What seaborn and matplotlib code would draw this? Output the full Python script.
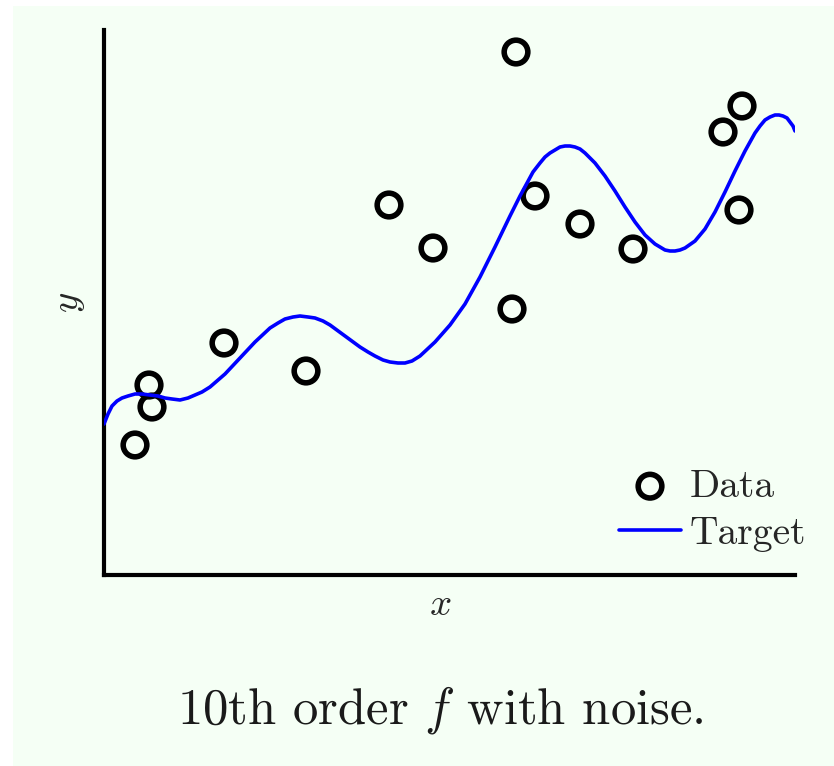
import matplotlib
matplotlib.use("Agg")
import matplotlib.pyplot as plt
import seaborn as sns
import pandas as pd
from matplotlib.patches import Rectangle

# Noisy samples of the target function
data_x = [31, 45, 48, 120, 202, 285, 329, 408, 412, 431, 476, 529, 619, 638, 635]
data_y = [130, 190, 168, 232, 204, 370, 327, 266, 523, 379, 351, 326, 443, 469, 365]

# Target function (10th order polynomial), sampled along x
target_x = [0, 4, 8, 13, 18, 24, 31, 38, 46, 54, 61, 68, 76, 84, 91, 98, 106, 121,
            136, 151, 166, 174, 181, 189, 196, 204, 211, 219, 226, 241, 256, 264,
            271, 279, 286, 294, 301, 308, 316, 331, 346, 361, 376, 391, 406, 416,
            429, 436, 441, 446, 451, 456, 461, 466, 471, 476, 481, 491, 501, 511,
            521, 531, 541, 551, 556, 561, 566, 571, 576, 581, 591, 601, 611, 621,
            631, 641, 651, 656, 661, 666, 671, 675, 679, 683, 686, 689, 691]
target_y = [151, 161, 169, 174, 177, 179, 181, 181, 180, 179, 177, 176, 175, 177,
            180, 183, 188, 201, 217, 233, 247, 252, 256, 258, 259, 258, 257, 254,
            250, 239, 228, 223, 219, 215, 213, 212, 212, 214, 219, 233, 250, 271,
            298, 328, 359, 379, 403, 412, 418, 422, 425, 428, 429, 429, 428, 426,
            422, 412, 399, 384, 368, 353, 340, 331, 328, 325, 324, 324, 325, 327,
            334, 346, 363, 383, 404, 424, 442, 449, 455, 458, 460, 460, 459, 457,
            453, 449, 444]

caption = r"10th order $f$ with noise."

sns.set_theme(style="white")
plt.rcParams["font.family"] = ["cmr10", "DejaVu Serif"]
plt.rcParams["mathtext.fontset"] = "cm"
plt.rcParams["axes.formatter.use_mathtext"] = True

bg = "#f5fff5"
W, H = 834, 766
fig = plt.figure(figsize=(W / 100, H / 100), dpi=100, facecolor="white")
fig.patches.append(Rectangle((13 / W, 0), 1, 1 - 6 / H, transform=fig.transFigure,
                             facecolor=bg, edgecolor="none", zorder=-10))

ax = fig.add_axes([104 / W, 1 - 575 / H, (795 - 104) / W, (575 - 30) / H])
ax.set_facecolor("none")

df_data = pd.DataFrame({"x": data_x, "y": data_y})
df_target = pd.DataFrame({"x": target_x, "y": target_y})

sns.scatterplot(data=df_data, x="x", y="y", ax=ax, s=290, marker="o",
                facecolor="none", edgecolor="black", linewidth=4.0,
                label="Data", zorder=2)
sns.lineplot(data=df_target, x="x", y="y", ax=ax, sort=False, estimator=None,
             color="#0000ff", linewidth=2.6, label="Target", zorder=3)
ax.lines[-1].set_solid_joinstyle("round")

ax.set_xlim(0, 691)
ax.set_ylim(0, 545)
ax.set_xticks([])
ax.set_yticks([])
for side in ("top", "right"):
    ax.spines[side].set_visible(False)
for side in ("left", "bottom"):
    ax.spines[side].set_color("black")
    ax.spines[side].set_linewidth(3.0)

ax.set_xlabel(r"$x$", fontsize=28)
ax.xaxis.set_label_coords((440 - 104) / 691, -0.022, transform=ax.transAxes)
ax.xaxis.label.set_va("top")
ax.set_ylabel(r"$y$", fontsize=28, labelpad=12)

leg = ax.legend(loc="lower right", bbox_to_anchor=(834 / W, 1 - 580 / H),
                bbox_transform=fig.transFigure, frameon=False, fontsize=28.5,
                handlelength=1.57, handletextpad=0.22, labelspacing=0.3,
                borderpad=0.2)

fig.text(440 / W, 1 - 710 / H, caption, ha="center", va="center", fontsize=36.5,
         color="#1a1a1a")

fig.savefig("out.png", dpi=100, facecolor="white")
